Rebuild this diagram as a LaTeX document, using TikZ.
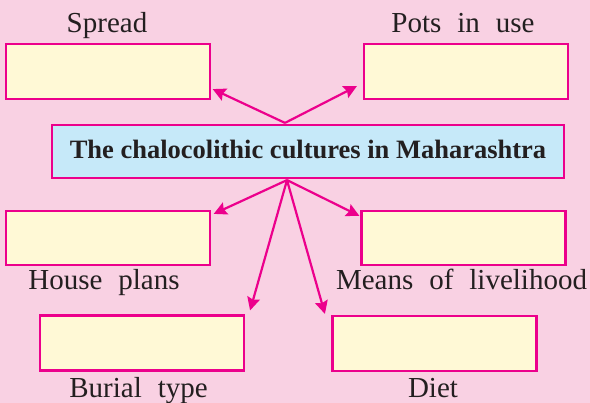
\documentclass[tikz,border=0pt]{standalone}
\usepackage{fontspec}
\setmainfont{Liberation Serif}
\usetikzlibrary{calc,arrows.meta}
\definecolor{bgpink}{HTML}{F9D1E3}
\definecolor{boxyellow}{HTML}{FFF9D6}
\definecolor{boxblue}{HTML}{C6E9F9}
\definecolor{mag}{HTML}{EC008C}
\definecolor{ink}{HTML}{231F20}
\tikzset{
  emptybox/.style={draw=mag, fill=boxyellow, line width=2.2pt, minimum width=204pt, minimum height=55pt, inner sep=0pt},
  mainbox/.style={draw=mag, fill=boxblue, line width=2.2pt, minimum width=512pt, minimum height=53pt, inner sep=0pt,
    text=ink, font={\fontsize{26.5}{30}\selectfont\bfseries}, text height=18pt, text depth=4pt},
  lbl/.style={anchor=base, inner sep=0pt, text=ink, font={\fontsize{29}{32}\selectfont},
    execute at begin node={\spaceskip=0.55em\relax}},
  arr/.style={draw=mag, line width=2.2pt, -{Stealth[length=13pt,width=13pt,inset=2pt]}}
}
\begin{document}
\begin{tikzpicture}[x=1pt,y=-1pt]
\fill[bgpink] (0,0) rectangle (590,403);
\useasboundingbox (0,0) rectangle (590,403);
% boxes
\node[emptybox] (spread) at (107.6,71.5) {};
\node[emptybox] (pots) at (466,71.5) {};
\node[mainbox] (central) at (308,151.5) {The chalocolithic cultures in Maharashtra};
\node[emptybox, minimum height=54pt] (house) at (107.6,238) {};
\node[emptybox, minimum height=54pt] (means) at (463.5,238) {};
\node[emptybox] (burial) at (142,343) {};
\node[emptybox] (diet) at (434.5,343.5) {};
% labels
\node[lbl] (lspread) at (107,33) {Spread};
\node[lbl] (lpots) at (463,33) {Pots in use};
\node[lbl] (lhouse) at (104,290) {House plans};
\node[lbl] (lmeans) at (461.5,290) {Means of livelihood};
\node[lbl] (lburial) at (138.5,398) {Burial type};
\node[lbl] (ldiet) at (433,398) {Diet};
% arrow origins
\coordinate (ctop) at ($(central.north)+(-23,-1)$);
\coordinate (cbot) at ($(central.south)+(-21,1)$);
% arrows
\draw[arr] (ctop) -- ($(spread.south east)+(2,-11)$);
\draw[arr] (ctop) -- ($(pots.south west)+(-6,-14)$);
\draw[arr] (cbot) -- ($(house.north east)+(3,4)$);
\draw[arr] (cbot) -- ($(means.north west)+(-1,6)$);
\draw[arr] (cbot) -- ($(burial.north east)+(5,-4)$);
\draw[arr] (cbot) -- ($(diet.north west)+(-6.5,-1)$);
\end{tikzpicture}
\end{document}
